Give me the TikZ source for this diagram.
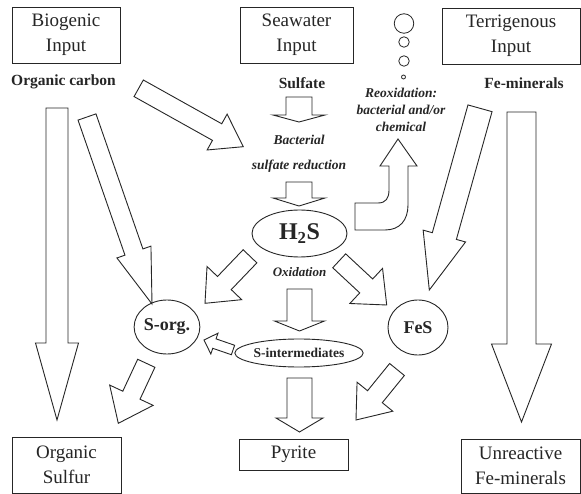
\documentclass[tikz,border=0pt]{standalone}
\usepackage{fontspec}
\setmainfont{Liberation Serif}
\usetikzlibrary{calc,shapes.geometric}
\definecolor{ink}{gray}{0.15}
\tikzset{
  box/.style={draw=ink, line width=0.9pt, rectangle, inner sep=0pt, align=center, text=ink,
    font=\fontsize{19}{25}\selectfont},
  oval/.style={draw=ink, line width=0.9pt, ellipse, inner sep=0pt, text=ink},
  barrow/.style={draw=ink, line width=0.9pt, fill=white, line join=miter},
  boldlab/.style={font=\fontsize{15.5}{18}\selectfont\bfseries, text=ink, inner sep=0pt},
  itlab/.style={font=\fontsize{13.5}{17}\selectfont\bfseries\itshape, text=ink, inner sep=0pt, align=center},
  bubble/.style={draw=ink, line width=0.8pt, circle, inner sep=0pt}
}
% tail, tip, shaft half width, head half width, head length
\newcommand\blockarrow[5]{%
  \path ($(#2)!#5!(#1)$) coordinate (ba-hb);
  \draw[barrow] ($(#1)!#3!90:(#2)$) -- ($(ba-hb)!#3!-90:(#1)$) -- ($(ba-hb)!#4!-90:(#1)$)
    -- (#2) -- ($(ba-hb)!#4!90:(#1)$) -- ($(ba-hb)!#3!90:(#1)$) -- ($(#1)!#3!-90:(#2)$) -- cycle;}
\begin{document}
\begin{tikzpicture}[x=1pt,y=-1pt]
\useasboundingbox (0,0) rectangle (581,494);
\fill[white] (0,0) rectangle (581,494);

% input boxes
\node[box, minimum width=108, minimum height=56] (bio) at (66,35) {Biogenic\\Input};
\node[box, minimum width=113, minimum height=56] (sea) at (296.5,35) {Seawater\\Input};
\node[box, minimum width=138, minimum height=56] (ter) at (511,36) {Terrigenous\\Input};

% output boxes
\node[box, minimum width=109, minimum height=56] (orgs) at (66.5,465) {Organic\\Sulfur};
\node[box, minimum width=109, minimum height=31] (pyr) at (293.5,454.5) {Pyrite};
\node[box, minimum width=119, minimum height=54] (unr) at (520.5,466) {Unreactive\\Fe-minerals};

% labels
\node[boldlab] (oc) at (63.5,82) {Organic carbon};
\node[boldlab] (sulf) at (302,83) {Sulfate};
\node[boldlab] (fem) at (524,83) {Fe-minerals};
\node[itlab] (bsr) at (299,154) {Bacterial\\[8pt]sulfate reduction};
\node[itlab] (reox) at (401,110) {Reoxidation:\\bacterial and/or\\chemical};
\node[itlab, font=\fontsize{13}{16}\selectfont\bfseries\itshape] (oxid) at (299.5,272) {Oxidation};

% ovals
\node[oval, minimum width=95, minimum height=47, font=\fontsize{24}{28}\selectfont\bfseries] (h2s) at (299.5,233.5) {H$_\mathbf{2}$S};
\node[oval, minimum width=120, minimum height=28, font=\fontsize{13.5}{16}\selectfont\bfseries] (sint) at (299,353) {S-intermediates};
\node[oval, minimum width=60, minimum height=54, font=\fontsize{18}{20}\selectfont\bfseries] (sorg) at (167,327) {S-org.};
\node[oval, minimum width=60, minimum height=55, font=\fontsize{18}{20}\selectfont\bfseries] (fes) at (418,327.5) {FeS};

% bubbles
\node[bubble, minimum size=19.5] (b1) at (404,23.5) {};
\node[bubble, minimum size=10.5] (b2) at (404,42) {};
\node[bubble, minimum size=10.5] (b3) at (404,61) {};
\node[bubble, minimum size=4] (b4) at (403.5,77) {};

% arrow end points
\coordinate (t1) at (299,97);      \coordinate (h1) at (299,122);
\coordinate (t2) at (299,182);     \coordinate (h2) at (299,206);
\coordinate (t3) at (299.5,289);   \coordinate (h3) at (299.5,331);
\coordinate (t4) at (299.5,378);   \coordinate (h4) at (299.5,432);
\coordinate (t5) at (57,108);      \coordinate (h5) at (57,420);
\coordinate (t6) at (521.5,112);   \coordinate (h6) at (521.5,422);
\coordinate (t7) at (138.7,88.3);  \coordinate (h7) at (243.3,146.7);
\coordinate (t8) at (87,117);      \coordinate (h8) at (152,304);
\coordinate (t9) at (480,108.3);   \coordinate (h9) at (429.3,290);
\coordinate (t10) at (250,256.3);  \coordinate (h10) at (205,303.3);
\coordinate (t11) at (339.2,260.8);\coordinate (h11) at (386.7,305);
\coordinate (t12) at (233,350);    \coordinate (h12) at (204,340);
\coordinate (t13) at (146.3,363.3);\coordinate (h13) at (118.3,423.3);
\coordinate (t14) at (397,369.5);  \coordinate (h14) at (356,420);

\blockarrow{t1}{h1}{13pt}{26pt}{7pt}
\blockarrow{t2}{h2}{13pt}{26pt}{8pt}
\blockarrow{t3}{h3}{12.5pt}{25pt}{10pt}
\blockarrow{t4}{h4}{12.5pt}{23.5pt}{14pt}
\blockarrow{t5}{h5}{11pt}{21.5pt}{77pt}
\blockarrow{t6}{h6}{14.5pt}{30pt}{78pt}
\blockarrow{t7}{h7}{9.5pt}{20.5pt}{30pt}
\blockarrow{t8}{h8}{9.5pt}{18pt}{55pt}
\blockarrow{t9}{h9}{12.5pt}{22pt}{56pt}
\blockarrow{t10}{h10}{9.5pt}{24pt}{28pt}
\blockarrow{t11}{h11}{9.5pt}{24pt}{28pt}
\blockarrow{t12}{h12}{5pt}{11pt}{11pt}
\blockarrow{t13}{h13}{9.5pt}{24pt}{31pt}
\blockarrow{t14}{h14}{9.5pt}{23pt}{30pt}

% curved reoxidation arrow
\coordinate (rt) at (355,216.5);
\coordinate (rh) at (398,139);
\draw[barrow] (355,203) -- (378,203) .. controls (386,203) and (389,198) .. (389,190)
  -- (389,166) -- (380,166) -- (rh) -- (417,166) -- (408,166) -- (408,205)
  .. controls (408,220) and (400,230) .. (385,230) -- (355,230) -- cycle;
\end{tikzpicture}
\end{document}
